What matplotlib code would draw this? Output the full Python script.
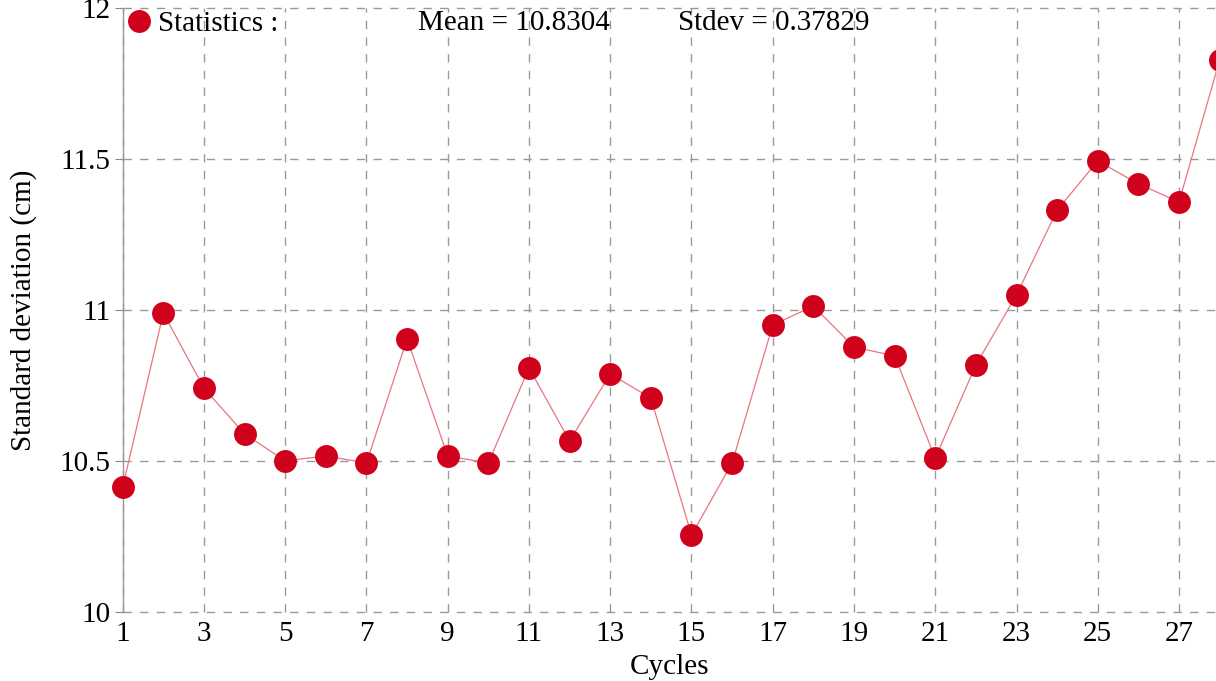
import numpy as np
import matplotlib
matplotlib.use('Agg')
import matplotlib.pyplot as plt

# Valores
ciclos = np.arange(1, 29)
desvio = [10.413, 10.990, 10.741, 10.589, 10.500, 10.516, 10.493, 10.904,
          10.516, 10.493, 10.808, 10.566, 10.788, 10.708, 10.254, 10.493,
          10.950, 11.013, 10.877, 10.848, 10.509, 10.818, 11.050, 11.331,
          11.494, 11.418, 11.358, 11.829]
texto_media = 'Mean = 10.8304'
texto_desvio = 'Stdev = 0.37829'

plt.rcParams['font.family'] = ['Liberation Serif', 'DejaVu Serif']

fig = plt.figure(figsize=(12.16, 6.81), dpi=100)
ax = fig.add_axes([122.7/1216, 1-611.7/681, 1-122.7/1216, (611.7-8.3)/681])

ax.plot(ciclos, desvio, color='#ea7480', linewidth=0.9, zorder=2)
ax.plot(ciclos, desvio, linestyle='none', marker='o', markersize=16.5,
        color='#d0021b', markeredgewidth=0, zorder=3, label='Statistics :', clip_on=False)

ax.set_xlim(1, 27.91)
ax.set_ylim(10, 12)
ax.set_xticks(np.arange(1, 28, 2))
ax.set_yticks([10, 10.5, 11, 11.5, 12])
ax.set_yticklabels(['10', '10.5', '11', '11.5', '12'])
ax.tick_params(labelsize=21, length=6, color='#888888', width=0.8, pad=3)
ax.tick_params(axis='x', length=0, pad=7)
ax.grid(True, color='#999999', linestyle=(0, (6, 6)), linewidth=1)
for gl in ax.get_ygridlines() + ax.get_xgridlines():
    gl.set_clip_on(False)
for lado in ['top', 'bottom', 'right']:
    ax.spines[lado].set_visible(False)
ax.spines['left'].set_color('#999999')
ax.spines['left'].set_linewidth(1)

ax.set_xlabel('Cycles', fontsize=21, labelpad=5)
ax.set_ylabel('Standard deviation (cm)', fontsize=21, labelpad=16)

leg = ax.legend(loc='upper left', bbox_to_anchor=(0, 1 - 2/603.4), frameon=False,
                fontsize=21, handletextpad=0.05, borderaxespad=0, borderpad=0,
                handlelength=1.15, markerscale=1.0)
ax.text((418-122.7)/(1216-122.7), 1-(23-8.3)/603.4, texto_media, transform=ax.transAxes,
        fontsize=21, va='center', ha='left')
ax.text((678-122.7)/(1216-122.7), 1-(23-8.3)/603.4, texto_desvio, transform=ax.transAxes,
        fontsize=21, va='center', ha='left')

fig.savefig('out.png', dpi=100)
